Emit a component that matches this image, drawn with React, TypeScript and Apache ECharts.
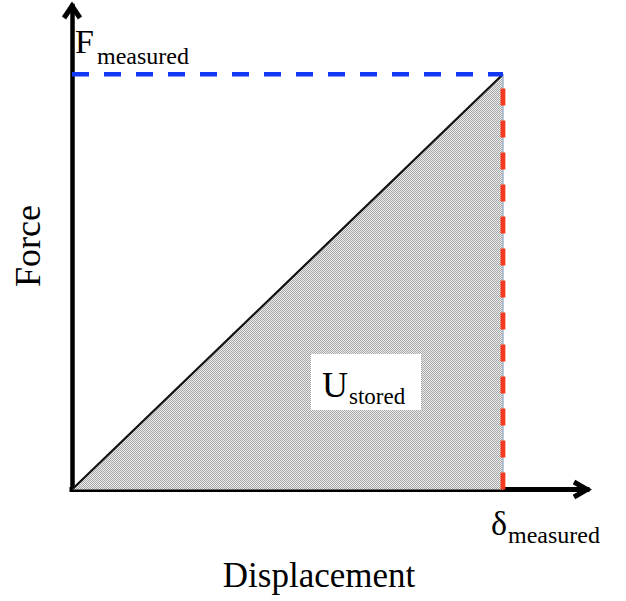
import React, { useEffect, useRef } from "react";
import * as echarts from "echarts";

// Data (normalized units: measured point at 1,1)
const loadPath: [number, number][] = [[0, 0], [1, 1]];
const forceLevel: [number, number][] = [[0, 1], [1, 1]];
const dispLevel: [number, number][] = [[1, 0], [1, 1]];
const X_MAX = 1.195;
const Y_MAX = 1.1645;
const axisTitles = { x: "Displacement", y: "Force" };
const labelF = ["F", "measured"];
const labelD = ["δ", "measured"];
const labelU = ["U", "stored"];

const FONT = "'Liberation Serif', 'Times New Roman', serif";

function makePattern() {
  const c = document.createElement("canvas");
  c.width = 2;
  c.height = 2;
  const ctx = c.getContext("2d")!;
  ctx.fillStyle = "#ededed";
  ctx.fillRect(0, 0, 2, 2);
  ctx.fillStyle = "#a6a6a6";
  ctx.fillRect(0, 0, 1, 1);
  ctx.fillRect(1, 1, 1, 1);
  return { image: c, repeat: "repeat" } as any;
}

export default function App() {
  const ref = useRef<HTMLDivElement>(null);
  useEffect(() => {
    const chart = echarts.init(ref.current!, undefined, { renderer: "svg" });
    const txt = (text: string, x: number, y: number, size: number, extra: any = {}) => ({
      type: "text",
      x,
      y,
      z: 100,
      ...extra,
      style: {
        text,
        fontSize: size,
        fontFamily: FONT,
        fill: "#000",
        align: "left",
        verticalAlign: "middle",
        ...(extra.style || {}),
      },
    });
    const option: any = {
      animation: false,
      backgroundColor: "#fff",
      grid: { left: 72, right: 39, top: 6, bottom: 111.5, outerBoundsMode: "none" },
      xAxis: {
        type: "value",
        min: 0,
        max: X_MAX,
        axisLine: { show: true, onZero: false, lineStyle: { color: "#000", width: 5, cap: "square" } },
        axisTick: { show: false },
        axisLabel: { show: false },
        splitLine: { show: false },
      },
      yAxis: {
        type: "value",
        min: 0,
        max: Y_MAX,
        axisLine: { show: true, onZero: false, lineStyle: { color: "#000", width: 4.5, cap: "square" } },
        axisTick: { show: false },
        axisLabel: { show: false },
        splitLine: { show: false },
      },
      series: [
        {
          type: "line",
          data: loadPath,
          symbol: "none",
          lineStyle: { color: "#111", width: 2.2 },
          areaStyle: { color: makePattern(), opacity: 1 },
          z: 2,
        },
        {
          type: "line",
          data: dispLevel,
          symbol: "none",
          lineStyle: { color: "#9fb3c8", width: 1.5 },
          z: 3,
        },
        {
          type: "line",
          data: forceLevel,
          symbol: "none",
          lineStyle: { color: "#1538f2", width: 4.5, type: [17, 15] },
          z: 4,
        },
        {
          type: "line",
          data: dispLevel,
          symbol: "none",
          lineStyle: { color: "#f53a1f", width: 4.8, type: [17, 15] },
          z: 4,
        },
        {
          type: "custom",
          data: [[0]],
          clip: false,
          z: 10,
          renderItem: (_p: any, api: any) => {
            const xt = api.coord([X_MAX, 0]);
            const yt = api.coord([0, Y_MAX]);
            const st = { stroke: "#000", lineWidth: 5, fill: "none", lineJoin: "miter", lineCap: "butt" };
            return {
              type: "group",
              children: [
                {
                  type: "polyline",
                  shape: { points: [[xt[0] - 13, xt[1] - 7.5], xt, [xt[0] - 13, xt[1] + 7.5]] },
                  style: st,
                },
                {
                  type: "polyline",
                  shape: { points: [[yt[0] - 8, yt[1] + 12], yt, [yt[0] + 8, yt[1] + 12]] },
                  style: st,
                },
              ],
            };
          },
        },
      ],
      graphic: [
        { type: "rect", shape: { x: 311, y: 354, width: 110, height: 56 }, style: { fill: "#fff" }, z: 90 },
        txt(labelF[0], 75, 41.5, 34),
        txt(labelF[1], 97, 55.8, 24),
        txt(labelD[0], 491, 523.5, 34),
        txt(labelD[1], 508, 534.8, 24),
        txt(labelU[0], 322, 384.8, 36),
        txt(labelU[1], 349, 396, 23),
        txt(axisTitles.x, 319, 575, 35, { style: { align: "center" } }),
        txt(axisTitles.y, 28, 246, 36, { rotation: Math.PI / 2, style: { align: "center" } }),
      ],
    };
    chart.setOption(option);
    return () => chart.dispose();
  }, []);
  return (
    <div
      ref={ref}
      style={{ position: "absolute", left: 0, top: 0, width: 626, height: 601 }}
    />
  );
}
